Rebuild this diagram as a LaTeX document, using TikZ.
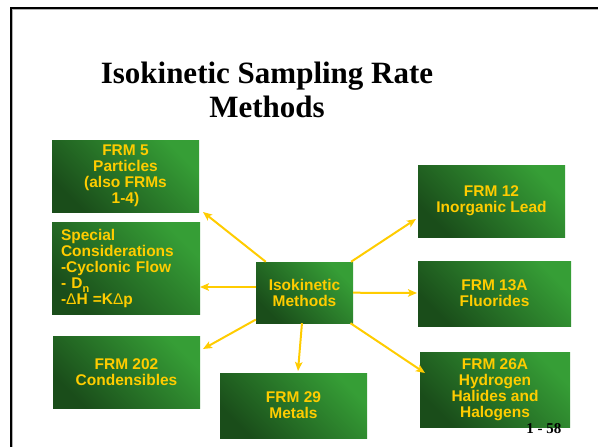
\documentclass[tikz,border=0pt]{standalone}
\usepackage{fontspec}
\setmainfont{Liberation Serif}
\newfontfamily\arialfont{Liberation Sans}
\usepackage{tikz}
\usetikzlibrary{arrows.meta}

\definecolor{frmdark}{RGB}{26,77,26}
\definecolor{frmlight}{RGB}{54,158,54}
\definecolor{frmgold}{RGB}{255,204,0}

\begin{document}
\begin{tikzpicture}[x=1pt, y=-1pt,
  frm/.style={top color=frmlight, bottom color=frmdark, shading angle=-45, text=frmgold,
    font=\arialfont\bfseries\fontsize{15.5}{16}\selectfont, align=center, inner sep=0pt},
  spoke/.style={frmgold, line width=2pt, -{Stealth[length=9pt, width=7.5pt, inset=2pt]}}]

\useasboundingbox (0,0) rectangle (598,447);
\draw[gray!60, line width=1pt] (12.5,600) -- (12.5,9.5) -- (700,9.5);
\draw[line width=2.4pt] (11,600) -- (11,8) -- (700,8);

\node[font=\bfseries\fontsize{31}{34}\selectfont, align=center] (title) at (267,89.5) {Isokinetic Sampling Rate\\Methods};

\node[frm, minimum width=97pt, minimum height=61pt] (iso) at (304.5,292.5) {Isokinetic\\Methods};

\node[frm, minimum width=147pt, minimum height=72pt] (frm5) at (125.5,176) {FRM 5\\Particles\\(also FRMs\\1-4)};
\node[frm, align=left, text width=130pt, inner xsep=9pt, minimum height=92pt] (special) at (126,268)
  {Special\\Considerations\\-Cyclonic Flow\\- D\raisebox{-4pt}{\fontsize{11}{11}\selectfont n}\\-{\mdseries Δ}H =K{\mdseries Δ}p};
\node[frm, minimum width=147pt, minimum height=72pt] (frm202) at (126.5,372) {FRM 202\\Condensibles};
\node[frm, minimum width=147pt, minimum height=65pt] (frm29) at (293.5,405.5) {FRM 29\\Metals};
\node[frm, minimum width=147pt, minimum height=72pt] (frm12) at (491.5,201) {FRM 12\\Inorganic Lead};
\node[frm, minimum width=153pt, minimum height=65pt] (frm13) at (494.5,293.5) {FRM 13A\\Fluorides};
\node[frm, minimum width=150pt, minimum height=75pt] (frm26) at (495,389.5) {FRM 26A\\Hydrogen\\Halides and\\Halogens};

\node[font=\bfseries\fontsize{15}{15}\selectfont, anchor=base east] (page) at (565,433) {1 - 58};

\coordinate (t5) at (203,212);
\coordinate (tS) at (200,287);
\coordinate (t202) at (203,349);
\coordinate (t29) at (298,371);
\coordinate (t12) at (416,219);
\coordinate (t13) at (417,293);
\coordinate (t26) at (425,373);

\draw[spoke] (iso) -- (t5);
\draw[spoke] (iso.west |- tS) -- (tS);
\draw[spoke] (iso) -- (t202);
\draw[spoke] (iso) -- (t29);
\draw[spoke] (iso) -- (t12);
\draw[spoke] (iso) -- (t13);
\draw[spoke] (iso) -- (t26);
\end{tikzpicture}
\end{document}
